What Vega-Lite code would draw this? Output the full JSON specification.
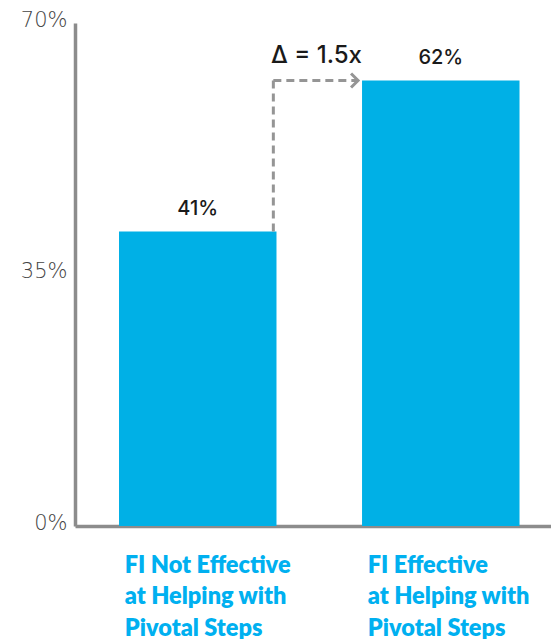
{
  "$schema": "https://vega.github.io/schema/vega-lite/v6.json",
  "width": 476,
  "height": 503,
  "autosize": {"type": "none"},
  "padding": {"left": 75, "top": 23, "right": 0, "bottom": 113},
  "background": "white",
  "config": {"view": {"stroke": null}, "font": "Lato"},
  "datasets": {
    "bars": [
      {"group": "FI Not Effective|at Helping with|Pivotal Steps", "pct": 41, "label": "41%"},
      {"group": "FI Effective|at Helping with|Pivotal Steps", "pct": 62, "label": "62%"}
    ],
    "delta": [
      {"from": "FI Not Effective|at Helping with|Pivotal Steps", "to": "FI Effective|at Helping with|Pivotal Steps", "low": 41, "high": 62, "text": "Δ = 1.5x"}
    ]
  },
  "layer": [
    {
      "data": {"name": "bars"},
      "mark": {"type": "bar", "color": "#00B0E6"},
      "encoding": {
        "x": {
          "field": "group", "type": "nominal", "sort": null,
          "scale": {
            "domain": ["FI Not Effective|at Helping with|Pivotal Steps", "FI Effective|at Helping with|Pivotal Steps"],
            "paddingInner": 0.352, "paddingOuter": 0.1553, "align": 0.583
          },
          "axis": {
            "title": null, "ticks": false, "domainColor": "#8c8c8c", "domainWidth": 3.5,
            "labelExpr": "split(datum.value, '|')", "labelAlign": "left", "labelOffset": -73,
            "labelFont": "Lato", "labelFontWeight": 800, "labelFontSize": 23.5,
            "labelColor": "#00B0F0", "labelPadding": 27, "labelLineHeight": 31.5,
            "labelBaseline": "top", "labelOverlap": false, "labelAngle": 0
          }
        },
        "y": {
          "field": "pct", "type": "quantitative",
          "scale": {"domain": [0, 70], "nice": false},
          "axis": {
            "values": [0, 35, 70], "labelExpr": "datum.value + '%'", "title": null,
            "grid": false, "ticks": false, "domainColor": "#8c8c8c", "domainWidth": 3.5,
            "labelFont": "DejaVu Sans", "labelFontWeight": 200, "labelFontSize": 21,
            "labelColor": "#444444", "labelPadding": 8, "labelOffset": -3
          }
        }
      }
    },
    {
      "data": {"name": "bars"},
      "mark": {"type": "text", "baseline": "alphabetic", "dy": -16, "fontSize": 20, "fontWeight": 500, "font": "Inter", "color": "#1a1a1a"},
      "encoding": {
        "x": {"field": "group", "type": "nominal", "sort": null},
        "y": {"field": "pct", "type": "quantitative"},
        "text": {"field": "label"}
      }
    },
    {
      "data": {"name": "delta"},
      "mark": {"type": "rule", "stroke": "#959595", "strokeWidth": 3, "strokeDash": [8, 5]},
      "encoding": {
        "x": {"field": "from", "type": "nominal", "bandPosition": 0.98},
        "y": {"field": "low", "type": "quantitative"},
        "y2": {"field": "high"}
      }
    },
    {
      "data": {"name": "delta"},
      "mark": {"type": "rule", "stroke": "#959595", "strokeWidth": 3, "strokeDash": [8, 5]},
      "encoding": {
        "x": {"field": "from", "type": "nominal", "bandPosition": 0.98},
        "x2": {"field": "to", "bandPosition": -0.025},
        "y": {"field": "high", "type": "quantitative"}
      }
    },
    {
      "data": {"name": "delta"},
      "mark": {"type": "point", "shape": "M-1.57,-1L-0.57,0L-1.57,1", "filled": false, "stroke": "#959595", "strokeWidth": 3, "size": 196, "opacity": 1},
      "encoding": {
        "x": {"field": "to", "type": "nominal", "bandPosition": 0},
        "y": {"field": "high", "type": "quantitative"}
      }
    },
    {
      "data": {"name": "delta"},
      "mark": {"type": "text", "baseline": "alphabetic", "align": "center", "dx": 40, "dy": -17, "fontSize": 24, "fontWeight": 500, "font": "Inter", "color": "#1a1a1a"},
      "encoding": {
        "x": {"field": "from", "type": "nominal", "bandPosition": 1},
        "y": {"field": "high", "type": "quantitative"},
        "text": {"field": "text"}
      }
    }
  ]
}
